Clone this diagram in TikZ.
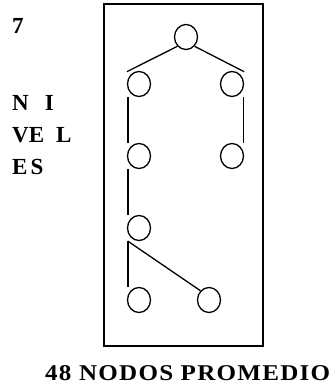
\documentclass[tikz,border=0pt]{standalone}
\usepackage{fontspec}
\setmainfont{Liberation Serif}
\usetikzlibrary{shapes.geometric}
\begin{document}
\begin{tikzpicture}[x=1pt,y=-1pt,
  nd/.style={draw,line width=1.3pt,ellipse,minimum width=23pt,minimum height=25pt,inner sep=0pt},
  ln/.style={line width=1.3pt},
  lbl/.style={font=\bfseries\fontsize{23}{28}\selectfont,inner sep=0pt,anchor=base west}]
\useasboundingbox (0,0) rectangle (332,388);
\node[draw,line width=1.6pt,minimum width=159pt,minimum height=342pt,inner sep=0pt] (box) at (183.5,175) {};
\node[nd] (r) at (186,37) {};
\node[nd] (a) at (139,84) {};
\node[nd] (b) at (232,84) {};
\node[nd] (c) at (139,156) {};
\node[nd] (d) at (232,156) {};
\node[nd] (e) at (139,228) {};
\node[nd] (f) at (139,300) {};
\node[nd] (g) at (209,300) {};
\coordinate (a1) at ([xshift=1pt,yshift=3pt]a.north west);
\coordinate (b1) at ([xshift=-1pt,yshift=3pt]b.north east);
\draw[ln] (r.south west) -- (a.west |- a1);
\draw[ln] (r.south east) -- (b.east |- b1);
\draw[ln] ([xshift=1pt]a.west |- a.south) -- ([xshift=1pt]c.west |- c.north);
\draw[ln] ([xshift=-1pt]b.east |- b.south) -- ([xshift=-1pt]d.east |- d.north);
\draw[ln] ([xshift=1pt]c.west |- c.south) -- ([xshift=1pt]e.west |- e.north);
\draw[ln] ([xshift=1pt]e.west |- e.south) -- ([xshift=1pt]f.west |- f.north);
\draw[ln] ([xshift=1pt]e.west |- e.south) -- (g.north west);
\node[lbl] (t7) at (12,33) {7};
\node[lbl] (t1) at (12,110) {N\hspace*{16pt}I};
\node[lbl] (t2) at (12,142) {VE\hspace*{12pt}L};
\node[lbl] (t3) at (12,174) {E\hspace*{3pt}S};
\node[font=\bfseries\fontsize{24}{28}\selectfont,inner sep=0pt,anchor=base west] (bt) at (45,380) {\resizebox{285pt}{15pt}{\addfontfeature{LetterSpace=5}48 NODOS PROMEDIO}};
\end{tikzpicture}
\end{document}
